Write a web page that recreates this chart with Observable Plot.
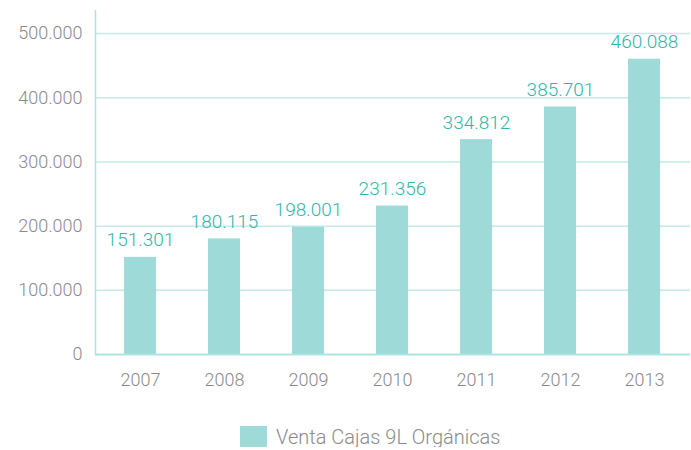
<!DOCTYPE html>
<html>
<head>
<meta charset="utf-8">
<script src="https://cdn.jsdelivr.net/npm/d3@7"></script>
<script src="https://cdn.jsdelivr.net/npm/@observablehq/plot@0.6"></script>
<style>
  body { margin: 0; background: #fff; font-family: Roboto, "DejaVu Sans", sans-serif; }
  #legend { display: flex; align-items: center; margin-left: 240px; margin-top: 16px; height: 21px; }
  #legend .sw { width: 27px; height: 21px; background: #9edad8; margin-right: 9px; }
  #legend span { font-size: 20px; color: #8a8a8a; font-weight: 300; }
</style>
</head>
<body>
<div id="chart"></div>
<div id="legend"><div class="sw"></div><span>Venta Cajas 9L Orgánicas</span></div>
<script>
const years = ["2007", "2008", "2009", "2010", "2011", "2012", "2013"];
const ventas = [151301, 180115, 198001, 231356, 334812, 385701, 460088];
const yTicks = [0, 100000, 200000, 300000, 400000, 500000];
const seriesName = "Venta Cajas 9L Orgánicas";

const es = d3.formatLocale({decimal: ",", thousands: ".", grouping: [3], currency: ["", ""]});
const fmt = es.format(",");

const data = years.map((y, i) => ({year: y, value: ventas[i]}));

const chart = Plot.plot({
  width: 691,
  height: 410,
  marginLeft: 95,
  marginRight: 1,
  marginTop: 10,
  marginBottom: 56,
  style: {fontFamily: "Roboto, sans-serif", fontSize: "18px", color: "#8a8a8a", fontWeight: 300},
  x: {domain: years, range: [98, 686], paddingInner: 0.62, paddingOuter: 0.31, label: null, tickSize: 0, tickPadding: 19},
  y: {domain: [0, 536000], ticks: yTicks, tickFormat: fmt, label: null, tickSize: 0, tickPadding: 13},
  marks: [
    Plot.ruleY(yTicks.filter(d => d > 0), {stroke: "#bfece9", strokeWidth: 1.5, insetLeft: 1}),
    Plot.barY(data, {x: "year", y: "value", fill: "#9edad8"}),
    Plot.ruleY([0], {stroke: "#ace4e1", strokeWidth: 2}),
    Plot.frame({anchor: "left", stroke: "#ace4e1", strokeWidth: 1.5}),
    Plot.text(data, {x: "year", y: "value", text: d => fmt(d.value), lineAnchor: "bottom", dy: -11, fill: "#30b6ab", fontSize: 19, fontWeight: 300})
  ]
});
document.getElementById("chart").appendChild(chart);
</script>
</body>
</html>
